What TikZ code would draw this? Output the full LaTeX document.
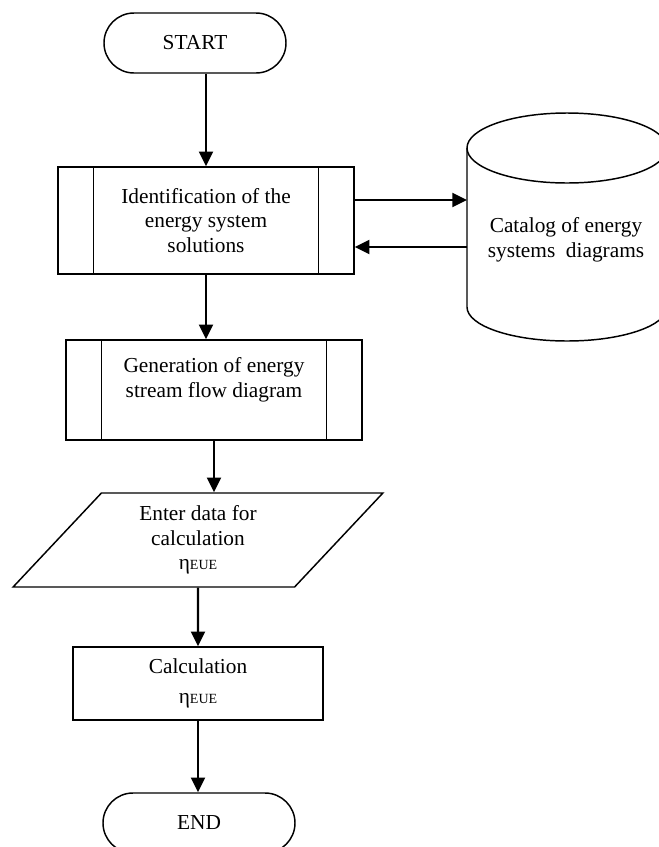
\documentclass[tikz,border=0pt]{standalone}
\usepackage{fontspec}
\setmainfont{Liberation Serif}
\usetikzlibrary{shapes.geometric,arrows.meta}

\begin{document}
\begin{tikzpicture}[x=0.75pt,y=-0.75pt,
    every node/.style={font=\fontsize{16}{18.4}\selectfont, align=center},
    box/.style={draw, line width=1.1pt, inner sep=0pt},
    term/.style={box, rounded corners=22.5pt, minimum width=136.5pt, minimum height=45pt},
    subproc/.style={box, minimum width=222pt},
    io/.style={box, trapezium, trapezium left angle=52, trapezium right angle=128,
        trapezium stretches=true, minimum width=277.5pt, minimum height=70.5pt},
    arr/.style={-{Triangle[length=11pt,width=10.5pt]}, line width=1.6pt}]
\useasboundingbox (0,0) rectangle (658,847);
\newcommand{\eue}{η{\fontsize{10.5}{12}\selectfont EUE}}

\node[term] (start) at (195,43) {START};
\node[subproc, minimum height=80.25pt] (ident) at (206,220.5) {Identification of the\\energy system\\solutions};
\node[subproc, minimum height=75pt] (gen) at (214,390) {Generation of energy\\stream flow diagram\\ \mbox{}};
\foreach \p in {ident,gen}{
    \draw[line width=1.1pt] ([xshift=27pt]\p.north west) -- ([xshift=27pt]\p.south west);
    \draw[line width=1.1pt] ([xshift=-27pt]\p.north east) -- ([xshift=-27pt]\p.south east);
}
\node[io] (data) at (198,540) {Enter data for\\calculation\\\eue};
\node[box, minimum width=187.5pt, minimum height=54.75pt] (calc) at (198,683.5) {Calculation\\[4pt]\eue};
\node[term, minimum width=144pt] (stop) at (199,823) {END};

% catalog (cylinder)
\node (cat) at (566,240) {Catalog of energy\\systems~ diagrams};
\draw[line width=1.1pt] (567,148) ellipse[x radius=75pt, y radius=26.25pt];
\draw[line width=1.1pt] (467,148) -- (467,307)
    arc[start angle=180, end angle=360, x radius=75pt, y radius=25.5pt] -- (667,148);
\coordinate (catin) at (467,200);
\coordinate (catout) at (467,247);

\draw[arr] (start.south -| ident) -- (ident.north);
\draw[arr] (ident.south) -- (ident.south |- gen.north);
\draw[arr] (gen.south) -- (gen.south |- data.north);
\draw[arr] (data.south) -- (calc.north);
\draw[arr] (calc.south) -- (calc.south |- stop.north);
\draw[arr] (ident.east |- catin) -- (catin);
\draw[arr] (catout) -- (ident.east |- catout);
\end{tikzpicture}
\end{document}
